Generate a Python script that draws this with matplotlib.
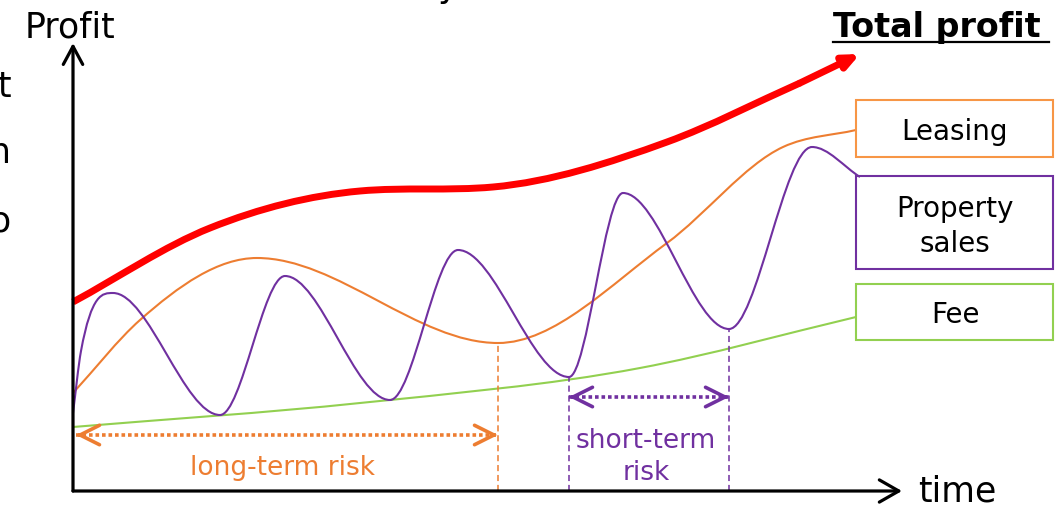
import numpy as np
import matplotlib.pyplot as plt
from matplotlib.path import Path
from matplotlib.patches import PathPatch, Rectangle

# Conceptual profit curves (time on x, profit on y, arbitrary units)
# key points: turning points and a few points on the flanks
total_t = [0, 137, 287, 420, 594, 727]
total_p = [189, 263, 300, 304, 349, 408]
total_tip = (787, 437)

leasing_t = [0, 67, 184, 425, 594, 710, 783]
leasing_p = [98, 171, 233, 148, 248, 344, 361]

sales_t = [0, 8, 40, 147, 212, 317, 385, 496, 550, 656, 739, 787]
sales_p = [78, 140, 198, 76, 215, 91, 241, 114, 298, 162, 344, 314]

fee_t = [0, 287, 567, 783]
fee_p = [64, 88, 123, 174]

# risk spans: from the axis to the leasing dip, and between two sales troughs
long_risk = [3, 425]
long_risk_level = 56
short_risk = [496, 656]
short_risk_level = 94

ORANGE = '#ED7D31'
PURPLE = '#7030A0'
GREEN = '#92D050'
RED = '#FF0000'


def smooth_path(x, y):
    # piecewise cubic through the key points, flat at every turning point
    x = np.asarray(x, float)
    y = np.asarray(y, float)
    h = np.diff(x)
    d = np.diff(y) / h
    m = np.empty_like(y)
    m[0], m[-1] = d[0], d[-1]
    for i in range(1, len(y) - 1):
        if d[i - 1] * d[i] <= 0:
            m[i] = 0.0
        else:
            s = (h[i] * d[i - 1] + h[i - 1] * d[i]) / (h[i - 1] + h[i])
            lim = 3 * min(abs(d[i - 1]), abs(d[i]))
            m[i] = np.sign(s) * min(abs(s), lim)
    verts = [(x[0], y[0])]
    codes = [Path.MOVETO]
    for i in range(len(x) - 1):
        verts += [(x[i] + h[i] / 3, y[i] + m[i] * h[i] / 3),
                  (x[i + 1] - h[i] / 3, y[i + 1] - m[i + 1] * h[i] / 3),
                  (x[i + 1], y[i + 1])]
        codes += [Path.CURVE4] * 3
    return Path(verts, codes)


def arrow(ax, start, end, style, color, lw):
    ax.annotate('', xy=end, xytext=start,
                arrowprops=dict(arrowstyle=style, color=color, lw=lw,
                                mutation_scale=1, shrinkA=0, shrinkB=0))


fig = plt.figure(figsize=(10.56, 5.07), dpi=100)
ax = fig.add_axes([0, 0, 1, 1])
ax.set_xlim(-73, 983)
ax.set_ylim(-16, 491)
ax.axis('off')

# axes arrows
arrow(ax, (0, 0), (0, 448), '->,head_length=13,head_width=7', 'black', 2.3)
arrow(ax, (0, 0), (829, 0), '->,head_length=14,head_width=8', 'black', 2.3)
ax.text(-3, 454, 'Profit', fontsize=25, ha='center', va='baseline')
ax.text(845, -11, 'time', fontsize=25, ha='left', va='baseline')

# text running off the edges
for yy, s in [(394, 't'), (328, 'n'), (259, 'o')]:
    ax.text(-62.5, yy, s, fontsize=25, ha='right', va='baseline')
ax.text(365, 494, 'y', fontsize=25, ha='left', va='baseline')

# dashed guides down to the time axis
ax.plot([long_risk[1]] * 2, [0, 148], ls=(0, (4, 2.5)), color=ORANGE, lw=1.1)
ax.plot([short_risk[0]] * 2, [0, 114], ls=(0, (4, 2.5)), color=PURPLE, lw=1.1)
ax.plot([short_risk[1]] * 2, [0, 162], ls=(0, (4, 2.5)), color=PURPLE, lw=1.1)

# curves
for t, p, c in [(fee_t, fee_p, GREEN), (leasing_t, leasing_p, ORANGE), (sales_t, sales_p, PURPLE)]:
    ax.add_patch(PathPatch(smooth_path(t, p), fill=False, edgecolor=c, lw=1.5))
ax.add_patch(PathPatch(smooth_path(total_t, total_p), fill=False, edgecolor=RED,
                       lw=5, capstyle='butt'))
arrow(ax, (total_t[-1], total_p[-1]), total_tip, '-|>,head_length=9,head_width=4', RED, 5)

ax.text(760, 454, 'Total profit', fontsize=24, fontweight='bold', ha='left', va='baseline')
ax.plot([760, 976], [449.5, 449.5], color='black', lw=1.6)

# label boxes
boxes = [((334, 391), '#F79646', ['Leasing'], [351]),
         ((222, 315), PURPLE, ['Property', 'sales'], [274, 239]),
         ((151, 207), GREEN, ['Fee'], [168])]
for (lo, hi), c, lines, bases in boxes:
    ax.add_patch(Rectangle((783, lo), 197, hi - lo, fill=False, edgecolor=c, lw=1.5))
    for s, b in zip(lines, bases):
        ax.text(882, b, s, fontsize=20, ha='center', va='baseline')

# risk arrows
for span, lvl, c in [(long_risk, long_risk_level, ORANGE), (short_risk, short_risk_level, PURPLE)]:
    ax.plot(span, [lvl, lvl], color=c, lw=2.6, ls=(0, (1, 0.8)), dash_capstyle='butt')
    arrow(ax, (span[0] + 6, lvl), (span[0], lvl), '->,head_length=14,head_width=7', c, 2.6)
    arrow(ax, (span[1] - 6, lvl), (span[1], lvl), '->,head_length=14,head_width=7', c, 2.6)

ax.text(209, 16, 'long-term risk', fontsize=19, color=ORANGE, ha='center', va='baseline')
ax.text(573, 43, 'short-term', fontsize=19, color=PURPLE, ha='center', va='baseline')
ax.text(573, 11, 'risk', fontsize=19, color=PURPLE, ha='center', va='baseline')

fig.savefig('out.png', dpi=100)
